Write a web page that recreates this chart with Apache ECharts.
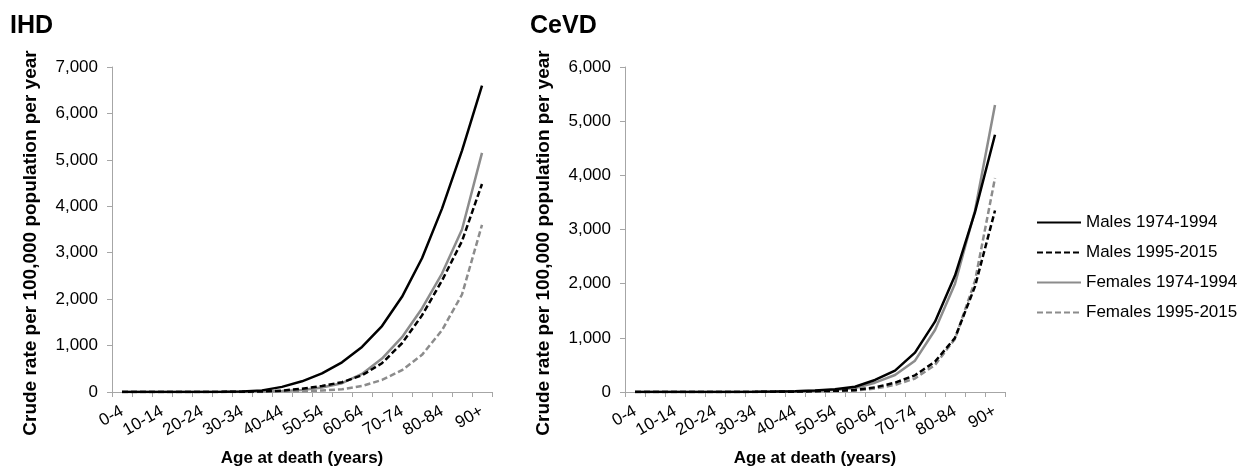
<!DOCTYPE html>
<html>
<head>
<meta charset="utf-8">
<script src="https://cdn.jsdelivr.net/npm/echarts@6/dist/echarts.min.js"></script>
<style>
html,body{margin:0;padding:0;background:#fff;}
#chart{width:1240px;height:469px;}
</style>
</head>
<body>
<div id="chart"></div>
<script>
// ---- Data ----
const ages = ['0-4','5-9','10-14','15-19','20-24','25-29','30-34','35-39','40-44','45-49','50-54','55-59','60-64','65-69','70-74','75-79','80-84','85-89','90+'];
const seriesNames = ['Males 1974-1994','Males 1995-2015','Females 1974-1994','Females 1995-2015'];
const yTicksIHD = [0,1000,2000,3000,4000,5000,6000,7000];
const yTicksCeVD = [0,1000,2000,3000,4000,5000,6000];

const ihdMales7494   = [0,0,0,1,2,5,12,35,110,230,400,640,970,1420,2050,2880,3950,5200,6600];
const ihdMales9515   = [0,0,0,0,1,2,5,12,30,70,130,210,360,620,1050,1650,2400,3250,4480];
const ihdFemales7494 = [0,0,0,0,0,1,2,5,20,45,95,190,390,720,1180,1800,2550,3500,5150];
const ihdFemales9515 = [0,0,0,0,0,0,1,2,8,18,32,60,130,260,470,800,1330,2100,3600];

const cevdMales7494   = [1,0,0,1,1,2,4,8,15,28,49,98,222,394,726,1298,2150,3320,4750];
const cevdMales9515   = [0,0,0,0,1,1,2,4,7,14,22,37,86,172,308,560,1000,1950,3350];
const cevdFemales7494 = [1,0,0,0,1,1,3,6,12,22,37,74,172,314,578,1145,2000,3350,5300];
const cevdFemales9515 = [0,0,0,0,0,1,1,3,5,10,16,25,65,130,250,500,980,2050,3950];

const yTitle = 'Crude rate per 100,000 population per year';
const xTitle = 'Age at death (years)';

// ---- Styles ----
const FONT = 'Liberation Sans, Arial, sans-serif';
const AXIS_COLOR = '#a6a6a6';
const BLACK = '#000000';
const GRAY = '#8c8c8c';
const styles = [
  {color: BLACK, type: 'solid'},
  {color: BLACK, type: [6,3]},
  {color: GRAY, type: 'solid'},
  {color: GRAY, type: [6,3]}
];

function xAxis(gridIndex){
  return {
    type: 'category', gridIndex, data: ages, boundaryGap: true,
    axisLine: {show: true, lineStyle: {color: AXIS_COLOR, width: 1}},
    axisTick: {show: true, interval: 0, length: 5, lineStyle: {color: AXIS_COLOR}},
    axisLabel: {interval: 1, rotate: 30, margin: 18, fontFamily: FONT, fontSize: 17, color: '#000'},
    splitLine: {show: false},
    name: xTitle, nameLocation: 'middle', nameGap: 58,
    nameTextStyle: {fontFamily: FONT, fontSize: 17, fontWeight: 'bold', color: '#000'}
  };
}
function yAxis(gridIndex, ticks){
  return {
    type: 'value', gridIndex, min: ticks[0], max: ticks[ticks.length-1], interval: ticks[1]-ticks[0],
    axisLine: {show: true, lineStyle: {color: AXIS_COLOR, width: 1}},
    axisTick: {show: true, length: 5, lineStyle: {color: AXIS_COLOR}},
    axisLabel: {margin: 14, fontFamily: FONT, fontSize: 17, color: '#000',
      formatter: v => v.toLocaleString('en-US')},
    splitLine: {show: false}
  };
}
function mkSeries(name, data, idx, axisIndex){
  const s = styles[idx];
  return {
    name, type: 'line', data, xAxisIndex: axisIndex, yAxisIndex: axisIndex,
    symbol: 'none', showSymbol: false, smooth: false, animation: false,
    lineStyle: {color: s.color, width: 2.5, type: s.type},
    itemStyle: {color: s.color}
  };
}

const ihdSets = [ihdMales7494, ihdMales9515, ihdFemales7494, ihdFemales9515];
const cevdSets = [cevdMales7494, cevdMales9515, cevdFemales7494, cevdFemales9515];
const series = [];
[3,2,1,0].forEach(i => series.push(mkSeries(seriesNames[i], ihdSets[i], i, 0)));
[3,2,1,0].forEach(i => series.push(mkSeries(seriesNames[i], cevdSets[i], i, 1)));

const chart = echarts.init(document.getElementById('chart'), null, {renderer: 'canvas'});
chart.setOption({
  backgroundColor: '#fff',
  animation: false,
  textStyle: {fontFamily: FONT},
  grid: [
    {left: 112, top: 67, width: 380, height: 325, containLabel: false, outerBoundsMode: 'none'},
    {left: 625, top: 67, width: 380, height: 325, containLabel: false, outerBoundsMode: 'none'}
  ],
  xAxis: [xAxis(0), xAxis(1)],
  yAxis: [yAxis(0, yTicksIHD), yAxis(1, yTicksCeVD)],
  legend: {
    data: seriesNames, orient: 'vertical', left: 1036, top: 214, padding: 0,
    itemWidth: 44, itemHeight: 14, itemGap: 13,
    itemStyle: {opacity: 0},
    textStyle: {fontFamily: FONT, fontSize: 17, color: '#000'}
  },
  graphic: [
    {type: 'text', left: 10, top: 14, style: {text: 'IHD', font: 'bold 25px ' + FONT, fill: '#000'}},
    {type: 'text', left: 530, top: 14, style: {text: 'CeVD', font: 'bold 25px ' + FONT, fill: '#000'}},
    {type: 'text', x: 31, y: 243, rotation: Math.PI / 2,
      style: {text: yTitle, font: 'bold 19px ' + FONT, fill: '#000', align: 'center', verticalAlign: 'middle'}},
    {type: 'text', x: 544, y: 243, rotation: Math.PI / 2,
      style: {text: yTitle, font: 'bold 19px ' + FONT, fill: '#000', align: 'center', verticalAlign: 'middle'}}
  ],
  series
});
</script>
</body>
</html>
